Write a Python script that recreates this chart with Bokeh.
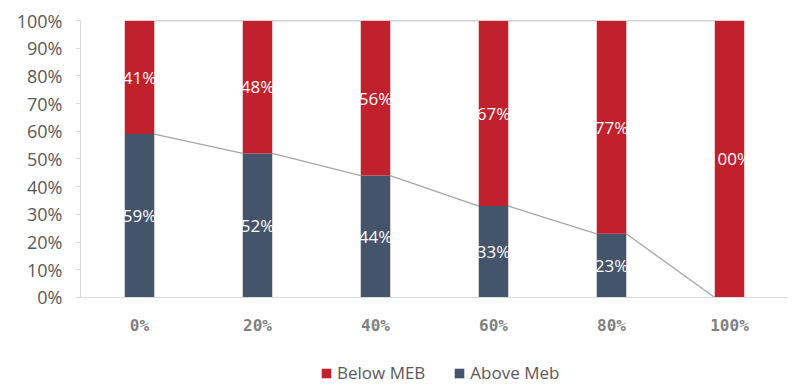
from bokeh.plotting import figure
from bokeh.models import ColumnDataSource, FixedTicker, Legend, LegendItem, CustomJSTickFormatter
from bokeh.core.properties import value
from bokeh.embed import file_html
from bokeh.resources import INLINE

categories = ["0%", "20%", "40%", "60%", "80%", "100%"]
above_meb = [59, 52, 44, 33, 23, 0]
below_meb = [41, 48, 56, 67, 77, 100]

RED = "#C0212C"
BLUE = "#44546A"
GRAY_TXT = "#595959"

n = len(categories)
xs = [i + 0.5 for i in range(n)]
bw = 0.25

src = ColumnDataSource(dict(
    x=xs,
    above=above_meb,
    below=below_meb,
    below_top=[a + b for a, b in zip(above_meb, below_meb)],
    above_mid=[a / 2 for a in above_meb],
    below_mid=[a + b / 2 for a, b in zip(above_meb, below_meb)],
    above_lbl=[f"{a}%" if a > 0 else "" for a in above_meb],
    below_lbl=[f"{b}%" for b in below_meb],
))

# frame spans 20..385 px; 0..100 % occupies the top 277 px
p = figure(width=794, height=385, x_range=(0, n), y_range=(-31.77, 100),
           output_backend="svg", toolbar_location=None,
           min_border_left=80, min_border_right=6, min_border_top=20, min_border_bottom=0)

# series lines (Excel-style connectors between stacked tops)
for i in range(n - 1):
    x0 = xs[i] + bw / 2
    x1 = xs[i + 1] - bw / 2
    p.line([x0, x1], [above_meb[i], above_meb[i + 1]], line_color="#A6A6A6", line_width=1.3)
    p.line([x0, x1], [above_meb[i] + below_meb[i], above_meb[i + 1] + below_meb[i + 1]],
           line_color="#A6A6A6", line_width=1.3)

r_above = p.vbar(x="x", width=bw, bottom=0, top="above", source=src, fill_color=BLUE, line_color=None)
r_below = p.vbar(x="x", width=bw, bottom="above", top="below_top", source=src, fill_color=RED, line_color=None)

p.text(x="x", y="above_mid", text="above_lbl", source=src, text_color="white",
       text_font=value("Open Sans"), text_font_size="17px", text_align="center", text_baseline="middle")
p.text(x="x", y="below_mid", text="below_lbl", source=src, text_color="white",
       text_font=value("Open Sans"), text_font_size="17px", text_align="center", text_baseline="middle")

p.grid.visible = False
p.outline_line_color = None

# y axis
p.yaxis.ticker = FixedTicker(ticks=list(range(0, 101, 10)))
p.yaxis.bounds = (0, 100)
p.yaxis.formatter = CustomJSTickFormatter(code="return tick + '%';")
p.yaxis.major_label_text_font = "Open Sans"
p.yaxis.major_label_text_font_size = "18px"
p.yaxis.major_label_text_color = GRAY_TXT
p.yaxis.axis_line_color = "#D9D9D9"
p.yaxis.major_tick_line_color = "#D9D9D9"
p.yaxis.major_tick_in = 0
p.yaxis.major_tick_out = 5
p.yaxis.minor_tick_line_color = None
p.yaxis.major_label_standoff = 13

# x axis, drawn at the 0 % level
p.xaxis.fixed_location = 0
p.xaxis.ticker = FixedTicker(ticks=xs)
p.xaxis.major_label_overrides = {x: c for x, c in zip(xs, categories)}
p.xaxis.major_label_text_font = "DejaVu Sans Mono"
p.xaxis.major_label_text_font_style = "bold"
p.xaxis.major_label_text_font_size = "16px"
p.xaxis.major_label_text_color = "#808080"
p.xaxis.axis_line_color = "#D9D9D9"
p.xaxis.major_tick_line_color = None
p.xaxis.minor_tick_line_color = None
p.xaxis.major_label_standoff = 13

legend = Legend(items=[LegendItem(label="Below MEB", renderers=[r_below]),
                       LegendItem(label="Above Meb", renderers=[r_above])],
                orientation="horizontal", location=(240, 1),
                border_line_color=None, background_fill_alpha=0,
                label_text_font="Open Sans", label_text_font_size="17px",
                label_text_color=GRAY_TXT, glyph_width=12, glyph_height=12,
                label_standoff=5, spacing=28, margin=0, padding=3)
p.add_layout(legend, "center")

open("out.html", "w").write(file_html(p, INLINE))
